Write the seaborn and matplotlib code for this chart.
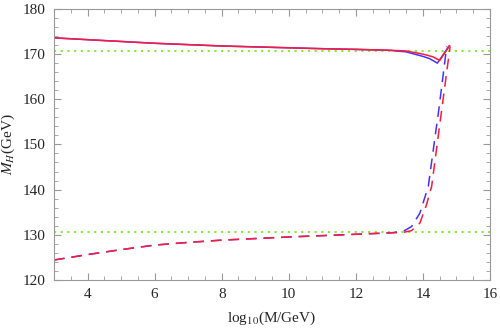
import numpy as np
import pandas as pd
import matplotlib
matplotlib.use('Agg')
import matplotlib.pyplot as plt
import seaborn as sns
from matplotlib.ticker import MultipleLocator

# solid curves (upper branch)
x_up_blue = [3, 4, 5, 6, 7, 8, 9, 10, 11, 12, 13, 13.5, 14.0, 14.2, 14.43, 14.78]
y_up_blue = [173.6, 173.2, 172.8, 172.4, 172.1, 171.8, 171.6, 171.4, 171.2, 171.05, 170.85, 170.5, 169.5, 169.0, 168.0, 171.8]
x_up_red = [3, 4, 5, 6, 7, 8, 9, 10, 11, 12, 13, 13.5, 14.0, 14.3, 14.5, 14.8]
y_up_red = [173.6, 173.2, 172.8, 172.4, 172.1, 171.8, 171.6, 171.4, 171.2, 171.05, 170.85, 170.7, 170.0, 169.4, 168.6, 171.9]

# dashed curves (lower branch)
x_lo_blue = [3, 4, 5, 6, 7, 8, 9, 10, 11, 12, 13, 13.4, 13.66, 13.91, 14.16, 14.39, 14.46, 14.61, 14.71]
y_lo_blue = [124.4, 125.6, 126.7, 127.7, 128.3, 128.8, 129.15, 129.5, 129.8, 130.1, 130.4, 130.7, 131.8, 134.8, 140.7, 153.2, 156.9, 165.8, 171.7]
x_lo_red = [3, 4, 5, 6, 7, 8, 9, 10, 11, 12, 13, 13.4, 13.66, 13.91, 14.1, 14.26, 14.45, 14.63, 14.81]
y_lo_red = [124.4, 125.6, 126.7, 127.7, 128.3, 128.8, 129.15, 129.5, 129.8, 130.1, 130.4, 130.5, 130.9, 132.6, 136.5, 140.7, 151.5, 161.6, 171.7]

# reference levels
h_levels = [170.8, 130.6]

blue = '#4433ff'
red = '#ff1a3a'
green = '#77e833'

sns.set_style('ticks')
plt.rcParams['font.family'] = ['Liberation Serif', 'DejaVu Serif']
plt.rcParams['mathtext.fontset'] = 'stix'

fig = plt.figure(figsize=(5, 3.32), dpi=100)
ax = fig.add_axes([0.108, 0.157, 0.872, 0.816])

for lev in h_levels:
    ax.axhline(lev, color=green, lw=1.3, ls=(0, (1.2, 2.5)), zorder=1)

sns.lineplot(x=x_up_blue, y=y_up_blue, ax=ax, color=blue, lw=1.1, sort=False)
sns.lineplot(x=x_up_red, y=y_up_red, ax=ax, color=red, lw=1.1, sort=False)
sns.lineplot(x=x_lo_blue, y=y_lo_blue, ax=ax, color=blue, lw=1.1, sort=False,
             linestyle=(0, (7, 4.5)))
sns.lineplot(x=x_lo_red, y=y_lo_red, ax=ax, color=red, lw=1.1, sort=False,
             linestyle=(0, (7, 4.5)))

ax.set_xlim(3, 16)
ax.set_ylim(120, 180)
ax.xaxis.set_major_locator(MultipleLocator(2))
ax.xaxis.set_minor_locator(MultipleLocator(0.5))
ax.yaxis.set_major_locator(MultipleLocator(10))
ax.yaxis.set_minor_locator(MultipleLocator(2))
ax.tick_params(which='both', direction='in', top=True, right=True,
               color='#999999', labelsize=11, pad=6)
ax.tick_params(which='major', length=5, width=0.8)
ax.tick_params(which='minor', length=3, width=0.6)
for sp in ax.spines.values():
    sp.set_color('#999999')
    sp.set_linewidth(0.8)

ax.set_xlabel(r'log$_{10}$(M/GeV)', fontsize=11, labelpad=6)
ax.set_ylabel(r'$M_H$(GeV)', fontsize=11, labelpad=4)

fig.savefig('out.png', dpi=100)
